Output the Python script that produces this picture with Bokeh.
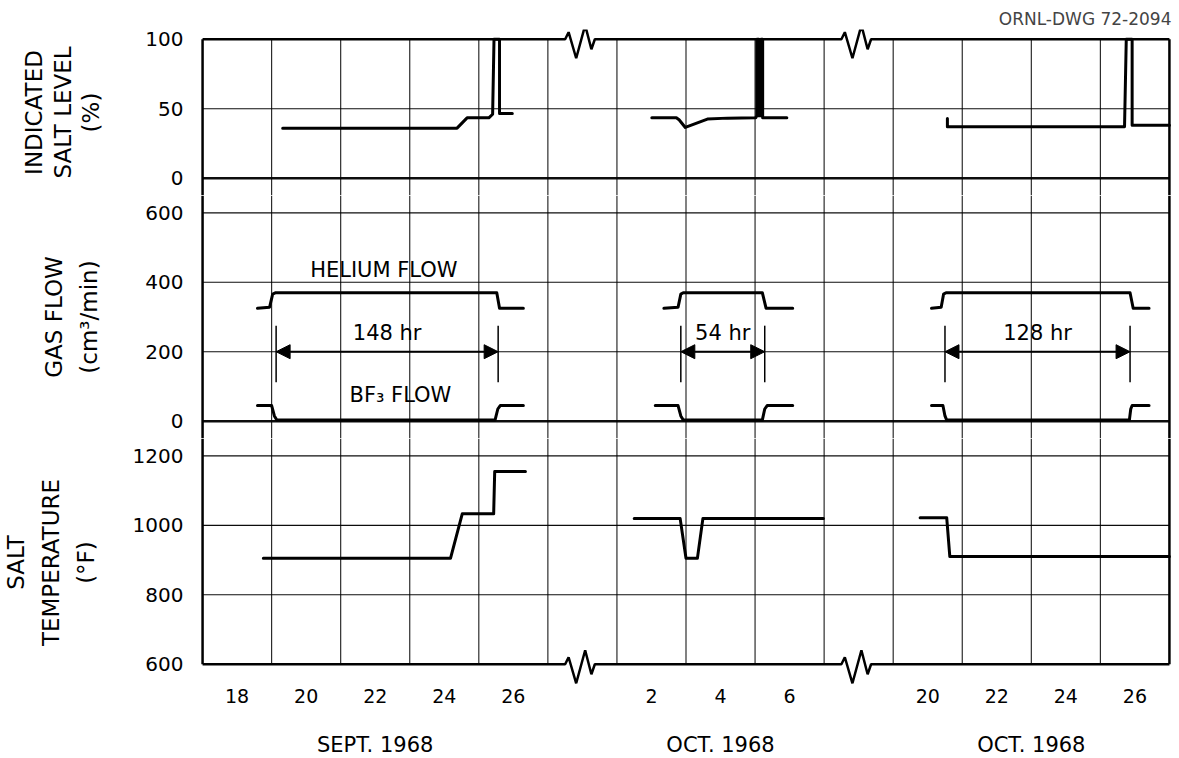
import numpy as np
from bokeh.plotting import figure
from bokeh.models import Range1d, FixedTicker, LinearAxis, Arrow, NormalHead, Label
from bokeh.layouts import column
from bokeh.embed import file_html
from bokeh.resources import INLINE

# ---------------- data ----------------
# broken time axis: three calendar segments (day of month)
segment_names = ["SEPT. 1968", "OCT. 1968", "OCT. 1968"]
segment_first_day = [17, 1, 19]
segment_last_day = [27, 7, 27]
segment_tick_days = [[18, 20, 22, 24, 26], [2, 4, 6], [20, 22, 24, 26]]

# indicated salt level (%)
level_sept_day = [19.32, 24.37, 24.66, 25.29, 25.40, 25.44, 25.60, 25.60, 25.97]
level_sept_pct = [36, 36, 43.4, 43.4, 46, 100, 100, 46.5, 46.5]
level_oct1_day = [2.01, 2.72, 2.80, 2.98, 3.62, 4.20, 5.02, 5.05, 5.05, 5.11, 5.11, 5.17, 5.17, 5.22, 5.22, 5.92]
level_oct1_pct = [43.5, 43.5, 42, 36.5, 42.5, 43.2, 43.5, 45, 100, 100, 45, 45, 100, 100, 43.5, 43.5]
level_oct2_day = [20.57, 20.57, 25.70, 25.75, 25.92, 25.92, 27.0]
level_oct2_pct = [43, 37, 37, 100, 100, 38, 38]

# gas flows (cm3/min)
helium_sept_day = [18.59, 18.94, 19.03, 19.12, 25.52, 25.60, 26.29]
helium_sept_flow = [325, 328, 366, 370, 370, 325, 325]
helium_oct1_day = [2.36, 2.77, 2.85, 2.92, 5.21, 5.32, 6.09]
helium_oct1_flow = [325, 328, 366, 370, 370, 325, 325]
helium_oct2_day = [20.11, 20.39, 20.46, 20.53, 25.86, 25.95, 26.41]
helium_oct2_flow = [325, 328, 366, 370, 370, 325, 325]

bf3_sept_day = [18.59, 19.00, 19.08, 19.15, 25.47, 25.55, 25.62, 26.29]
bf3_sept_flow = [45, 45, 15, 3, 3, 35, 45, 45]
bf3_oct1_day = [2.11, 2.77, 2.85, 2.92, 5.21, 5.28, 5.35, 6.09]
bf3_oct1_flow = [45, 45, 15, 3, 3, 35, 45, 45]
bf3_oct2_day = [20.11, 20.44, 20.50, 20.55, 25.84, 25.88, 25.92, 26.41]
bf3_oct2_flow = [45, 45, 15, 3, 3, 35, 45, 45]

# addition periods (start day, end day) and their labels
period_segment = [0, 1, 2]
period_start_day = [19.13, 2.85, 20.50]
period_end_day = [25.56, 5.28, 25.86]
period_labels = ["148 hr", "54 hr", "128 hr"]

# salt temperature (F)
temp_sept_day = [18.76, 24.18, 24.52, 25.43, 25.46, 26.35]
temp_sept_f = [905, 905, 1033, 1033, 1155, 1155]
temp_oct1_day = [1.50, 2.83, 3.00, 3.33, 3.49, 6.98]
temp_oct1_f = [1020, 1020, 905, 905, 1020, 1020]
temp_oct2_day = [19.78, 20.55, 20.64, 27.0]
temp_oct2_f = [1022, 1022, 910, 910]

salt_ticks = [0, 50, 100]
gas_ticks = [0, 200, 400, 600]
temp_ticks = [600, 800, 1000, 1200]

# ---------------- layout helpers ----------------
FONT = "DejaVu Sans"
BREAK = 2
offsets = []
pos = 0
for f, l in zip(segment_first_day, segment_last_day):
    offsets.append(pos)
    pos += (l - f) + BREAK
X_END = pos - BREAK


def to_x(seg, days):
    return list(offsets[seg] + np.asarray(days, dtype=float) - segment_first_day[seg])


CELL = 69.44
xr = Range1d(-0.06, X_END + 0.06)


def make_fig(c0, c1, f, top=0, bottom=0, xaxis=None):
    h = int(round((c1 - c0) * CELL))
    p = figure(frame_width=971, frame_height=h, x_range=xr,
               y_range=Range1d(f(c0), f(c1)),
               output_backend="svg", toolbar_location=None,
               x_axis_location=xaxis, y_axis_location="left")
    p.min_border_left = 200
    p.min_border_right = 2
    p.min_border_top = top
    p.min_border_bottom = bottom
    p.outline_line_color = None
    p.grid.visible = False
    p.background_fill_color = "white"
    p.border_fill_color = "white"
    return p


def style_yaxis(p, ticks, label, standoff, lh):
    ax = p.yaxis[0]
    ax.ticker = FixedTicker(ticks=ticks)
    ax.major_tick_line_color = None
    ax.minor_tick_line_color = None
    ax.major_tick_out = 0
    ax.major_tick_in = 0
    ax.axis_line_color = None
    ax.major_label_standoff = 17
    ax.major_label_text_font = FONT
    ax.major_label_text_font_size = "20px"
    ax.major_label_text_color = "black"
    ax.axis_label = label
    ax.axis_label_text_font = FONT
    ax.axis_label_text_font_size = "23px"
    ax.axis_label_text_font_style = "normal"
    ax.axis_label_text_color = "black"
    ax.axis_label_text_line_height = lh
    ax.axis_label_standoff = standoff


def vgrid(p, y0, y1):
    xs = list(np.arange(BREAK, X_END, BREAK))
    p.segment(x0=xs, y0=[y0] * len(xs), x1=xs, y1=[y1] * len(xs),
              line_color="black", line_width=1.1, line_alpha=0.9)
    p.segment(x0=[0, X_END], y0=[y0, y0], x1=[0, X_END], y1=[y1, y1],
              line_color="black", line_width=2.5)


def hgrid(p, ys, lw=1.1):
    n = len(ys)
    p.segment(x0=[0] * n, y0=ys, x1=[X_END] * n, y1=ys,
              line_color="black", line_width=lw, line_alpha=0.95)


zig_dx = [0.5, 0.6, 0.82, 1.08, 1.26, 1.36]
zig_px = [0, 7, -19, 14, -10, 0]


def zig_border(yv, per_px):
    xs, ys = [0.0], [yv]
    for s in range(len(offsets) - 1):
        b = offsets[s] + segment_last_day[s] - segment_first_day[s]
        for dx, pz in zip(zig_dx, zig_px):
            xs.append(b + dx)
            ys.append(yv + pz * per_px)
    xs.append(X_END)
    ys.append(yv)
    return xs, ys


def trace(p, seg, days, vals):
    p.line(to_x(seg, days), vals, line_color="black", line_width=3,
           line_join="round", line_cap="round")


# ---------------- panel 1: salt level ----------------
salt_f = lambda c: 50 * (c - 7)
p1 = make_fig(6.75, 9.14, salt_f, top=29)
s0 = p1.y_range.start
vgrid(p1, s0, 100)
hgrid(p1, [50])
hgrid(p1, [0], lw=2.5)
zx, zy = zig_border(100, 50 / CELL)
p1.line(zx, zy, line_color="black", line_width=2.5)
trace(p1, 0, level_sept_day, level_sept_pct)
trace(p1, 1, level_oct1_day, level_oct1_pct)
trace(p1, 2, level_oct2_day, level_oct2_pct)
style_yaxis(p1, salt_ticks, "INDICATED\nSALT LEVEL\n(%)", 38, 1.1)
p1.title.text = "ORNL-DWG 72-2094"
p1.title.align = "right"
p1.title.text_font = FONT
p1.title.text_font_size = "17px"
p1.title.text_font_style = "normal"
p1.title.standoff = 2

# ---------------- panel 2: gas flow ----------------
gas_f = lambda c: 200 * (c - 3.5)
p2 = make_fig(3.25, 6.75, gas_f)
vgrid(p2, p2.y_range.start, p2.y_range.end)
hgrid(p2, [200, 400, 600])
hgrid(p2, [0], lw=2.5)
trace(p2, 0, helium_sept_day, helium_sept_flow)
trace(p2, 1, helium_oct1_day, helium_oct1_flow)
trace(p2, 2, helium_oct2_day, helium_oct2_flow)
trace(p2, 0, bf3_sept_day, bf3_sept_flow)
trace(p2, 1, bf3_oct1_day, bf3_oct1_flow)
trace(p2, 2, bf3_oct2_day, bf3_oct2_flow)
for seg, d0, d1, lab in zip(period_segment, period_start_day, period_end_day, period_labels):
    x0 = to_x(seg, [d0])[0]
    x1 = to_x(seg, [d1])[0]
    p2.segment(x0=[x0, x1], y0=[112, 112], x1=[x0, x1], y1=[275, 275],
               line_color="black", line_width=1.5)
    p2.add_layout(Arrow(x_start=x0, y_start=200, x_end=x1, y_end=200,
                        line_color="black", line_width=2,
                        start=NormalHead(size=14, fill_color="black", line_color="black"),
                        end=NormalHead(size=14, fill_color="black", line_color="black")))
    p2.add_layout(Label(x=(x0 + x1) / 2, y=254, text=lab, text_align="center",
                        text_baseline="middle", text_font=FONT,
                        text_font_size="21px", text_color="black"))
p2.add_layout(Label(x=to_x(0, [22.25])[0], y=435, text="HELIUM FLOW", text_align="center",
                    text_baseline="middle", text_font=FONT, text_font_size="21px",
                    text_color="black"))
p2.add_layout(Label(x=to_x(0, [22.73])[0], y=75, text="BF\u2083 FLOW", text_align="center",
                    text_baseline="middle", text_font=FONT, text_font_size="21px",
                    text_color="black"))
style_yaxis(p2, gas_ticks, "GAS FLOW\n(cm\u00b3/min)", 40, 1.36)

# ---------------- panel 3: salt temperature ----------------
temp_f = lambda c: 600 + 200 * c
p3 = make_fig(-0.32, 3.25, temp_f, bottom=55, xaxis="below")
vgrid(p3, 600, p3.y_range.end)
hgrid(p3, [800, 1000, 1200])
zx, zy = zig_border(600, 200 / CELL)
p3.line(zx, zy, line_color="black", line_width=2.5)
trace(p3, 0, temp_sept_day, temp_sept_f)
trace(p3, 1, temp_oct1_day, temp_oct1_f)
trace(p3, 2, temp_oct2_day, temp_oct2_f)
style_yaxis(p3, temp_ticks, "SALT\nTEMPERATURE\n(\u00b0F)", 31, 1.33)

tick_x, tick_lab = [], {}
grp_x, grp_lab = [], {}
for s in range(len(segment_names)):
    xs = to_x(s, segment_tick_days[s])
    for x, d in zip(xs, segment_tick_days[s]):
        tick_x.append(x)
        tick_lab[x] = str(d)
    gx = float(np.mean(xs))
    grp_x.append(gx)
    grp_lab[gx] = segment_names[s]

ax = p3.xaxis[0]
ax.ticker = FixedTicker(ticks=tick_x)
ax.major_label_overrides = tick_lab
ax.major_tick_line_color = None
ax.minor_tick_line_color = None
ax.major_tick_out = 0
ax.major_tick_in = 0
ax.axis_line_color = None
ax.major_label_standoff = 2
ax.major_label_text_font = FONT
ax.major_label_text_font_size = "19px"
ax.major_label_text_color = "black"

ax2 = LinearAxis(ticker=FixedTicker(ticks=grp_x), major_label_overrides=grp_lab)
ax2.major_tick_line_color = None
ax2.minor_tick_line_color = None
ax2.major_tick_out = 0
ax2.major_tick_in = 0
ax2.axis_line_color = None
ax2.major_label_standoff = 27
ax2.major_label_text_font = FONT
ax2.major_label_text_font_size = "21px"
ax2.major_label_text_color = "black"
p3.add_layout(ax2, "below")

layout = column(p1, p2, p3)
open("out.html", "w").write(file_html(layout, INLINE))
